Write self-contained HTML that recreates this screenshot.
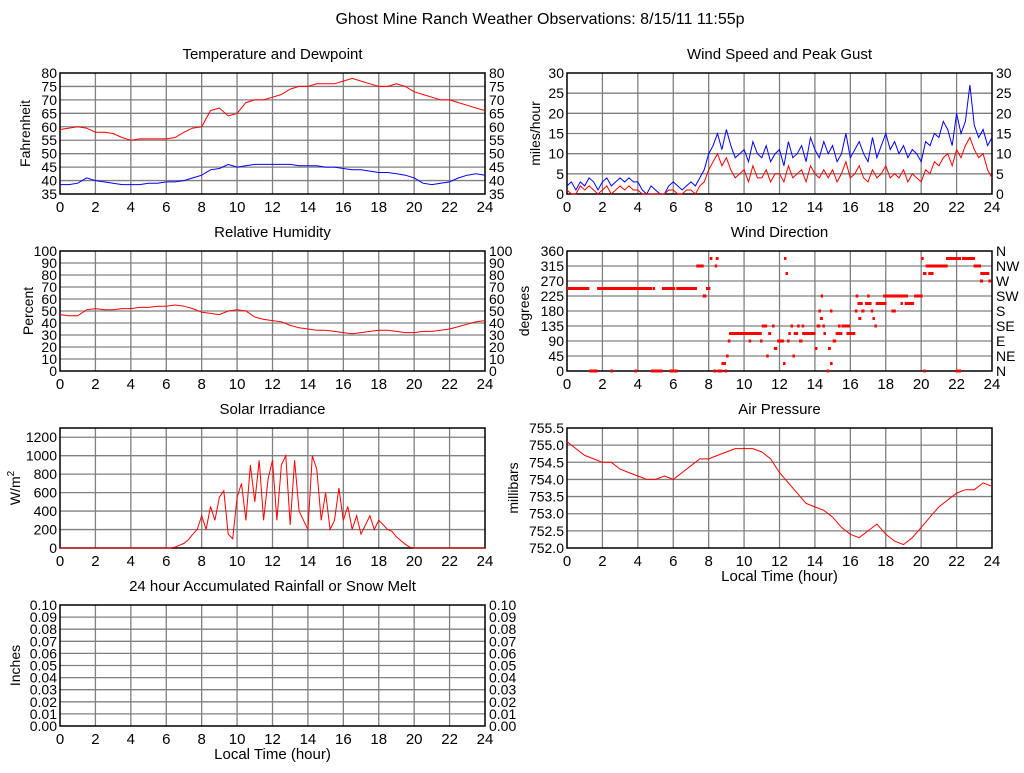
<!DOCTYPE html>
<html><head><meta charset="utf-8"><style>
body{margin:0;background:#fff;width:1024px;height:768px;overflow:hidden}
svg{font-family:"Liberation Sans",sans-serif}
</style></head><body>
<svg id="c" width="1024" height="768">
<text x="540" y="24" font-size="16" text-anchor="middle">Ghost Mine Ranch Weather Observations: 8/15/11 11:55p</text>
</svg>
<script>
// Half-hour samples 0..24
const tempF=[59,59.5,60,59.5,58,58,57.5,56,55,55.5,55.5,55.5,55.5,56,58,59.5,60,66,67,64,65,69,70,70,71,72,74,75,75,76,76,76,77,78,77,76,75,75,76,75,73,72,71,70,70,69,68,67,66];
const dewF=[38.5,38.5,39,41,40,39.5,39,38.5,38.5,38.5,39,39,39.5,39.5,40,41,42,44,44.5,46,45,45.5,46,46,46,46,46,45.5,45.5,45.5,45,45,44.5,44,44,43.5,43,43,42.5,42,41,39,38.5,39,39.5,41,42,42.5,42];
const rhPct=[47,46,46,51,52,51,51,52,52,53,53,54,54,55,54,52,49,48,47,50,51,50,45,43,42,41,38,36,35,34,34,33,32,31,32,33,34,34,33,32,32,33,33,34,35,37,39,41,42];
// quarter-hour wind samples
const gustMph=[2,3,1,3,2,4,3,1,3,4,2,3,4,3,4,3,3,1,0,2,1,0,0,2,3,2,1,2,3,2,4,6,10,12,15,11,16,12,9,10,11,8,13,10,9,12,8,10,11,7,13,9,10,12,8,14,11,9,13,10,12,8,10,15,9,11,13,10,8,14,9,12,15,11,13,10,12,9,11,10,8,13,12,15,14,18,16,12,20,15,18,27,17,14,16,12,14];
const speedMph=[1,0,0,2,1,2,1,0,1,2,0,1,2,1,2,1,1,0,0,0,0,0,0,1,1,0,0,1,1,0,2,3,6,8,10,7,9,6,4,5,6,3,7,4,4,6,3,5,5,3,7,4,5,6,3,7,5,4,6,4,6,3,5,8,4,5,7,4,3,6,4,5,7,4,5,4,6,3,5,4,3,6,5,8,7,9,10,7,11,9,12,14,11,9,10,6,4];
const pressMb=[755.1,754.9,754.7,754.6,754.5,754.5,754.3,754.2,754.1,754.0,754.0,754.1,754.0,754.2,754.4,754.6,754.6,754.7,754.8,754.9,754.9,754.9,754.8,754.6,754.2,753.9,753.6,753.3,753.2,753.1,752.9,752.6,752.4,752.3,752.5,752.7,752.4,752.2,752.1,752.3,752.6,752.9,753.2,753.4,753.6,753.7,753.7,753.9,753.8];
const solarHour=[0,6,6.25,6.5,6.75,7,7.25,7.5,7.75,8,8.25,8.5,8.75,9,9.25,9.5,9.75,10,10.25,10.5,10.75,11,11.25,11.5,11.75,12,12.25,12.5,12.75,13,13.25,13.5,13.75,14,14.25,14.5,14.75,15,15.25,15.5,15.75,16,16.25,16.5,16.75,17,17.25,17.5,17.75,18,18.25,18.5,18.75,19,19.25,19.5,19.75,20,24];
const solarW=[0,0,0,10,30,50,90,150,200,350,200,450,300,550,620,150,100,550,700,300,900,500,950,300,750,950,300,900,1000,250,950,400,300,200,1000,850,300,600,200,300,650,300,450,200,350,150,250,350,200,300,250,200,180,120,80,40,10,0,0];
const wdStart=[0,1.7,4.83,5.36,6.17,7.85,1.26,2.45,3.81,4.74,5.79,7.3,7.66,8.06,8.4,8.34,8.26,8.5,8.9,8.72,8.98,9.08,9.15,10.26,10.9,11.0,11.58,11.36,11.25,11.68,11.87,12.2,12.25,12.34,12.43,12.5,12.62,12.73,12.8,13.0,13.1,13.25,13.28,14.0,14.1,14.2,14.32,14.28,14.48,14.42,14.66,14.74,14.85,14.85,15.0,15.17,15.3,15.5,15.78,15.65,15.84,16.25,16.3,16.4,16.45,16.62,16.83,16.95,17.15,17.25,17.36,17.43,17.85,18.32,18.53,18.83,19.07,19.6,20.0,20.12,20.1,20.4,20.25,21.4,22.3,21.95,22.1,22.96,23.34,23.32,23.8];
const wdEnd=[1.26,4.8,4.94,6.11,7.34,8.1,1.72,2.57,3.94,5.4,6.25,7.72,7.87,8.21,8.56,8.45,8.43,8.77,9.0,8.98,9.13,9.23,11.0,10.34,10.98,11.3,11.7,11.53,11.38,11.87,12.25,12.26,12.38,12.43,12.55,12.62,12.77,12.87,13.05,13.13,13.3,13.35,14.04,14.13,14.3,14.3,14.45,14.45,14.6,14.52,14.8,14.9,15.0,14.97,15.2,15.55,15.45,15.7,16.28,15.9,15.95,16.4,16.45,16.7,16.62,16.8,17.2,17.05,17.28,17.35,17.5,18.04,18.62,18.57,19.26,18.93,19.6,20.08,20.13,20.22,20.3,20.7,21.5,22.25,23.04,22.08,22.25,23.38,23.85,23.5,23.95];
const wdDeg=[247.5,247.5,247.5,247.5,247.5,247.5,0,0,0,0,0,315,225,337.5,337.5,315,0,0,0,22.5,45,90,112.5,90,90,135,135,112.5,45,67.5,90,22.5,337.5,292.5,90,112.5,135,45,112.5,135,90,135,112.5,67.5,135,180,225,157.5,112.5,135,0,67.5,22.5,180,90,112.5,135,135,112.5,135,135,180,225,202.5,157.5,180,202.5,225,180,157.5,135,202.5,225,180,225,202.5,202.5,225,337.5,0,292.5,292.5,315,337.5,337.5,0,0,315,292.5,270,270];
const xTicks=[0,2,4,6,8,10,12,14,16,18,20,22,24];
const compassLabels=['N','NE','E','SE','S','SW','W','NW','N'];

const NS='http://www.w3.org/2000/svg';
const svg=document.getElementById('c');
const FS=14;
function el(tag,attrs,parent){const e=document.createElementNS(NS,tag);for(const k in attrs)e.setAttribute(k,attrs[k]);(parent||svg).appendChild(e);return e;}

function panel(o){
  const g=el('g',{});
  
  
  const W=o.x1-o.x0,H=o.y1-o.y0;
  const sx=h=>o.x0+h/24*W;
  const sy=v=>o.y1-(v-o.ymin)/(o.ymax-o.ymin)*H;
  const t=el('text',{x:(o.x0+o.x1)/2,y:o.y0-14,'font-size':15,'text-anchor':'middle'},g);t.textContent=o.title;
  
  
  for(const h of xTicks){
    if(h>0&&h<24)el('line',{x1:sx(h),x2:sx(h),y1:o.y0,y2:o.y1,stroke:'#808080','stroke-width':1.3},g);
    const l=el('text',{x:sx(h),y:o.y1+18,'font-size':FS+1,'text-anchor':'middle'},g);l.textContent=h;
    
    
  }
  o.yTicks.forEach((v,i)=>{
    const y=sy(v);
    if(v>o.ymin&&v<o.ymax)el('line',{x1:o.x0,x2:o.x1,y1:y,y2:y,stroke:'#808080','stroke-width':1.3},g);
    const l=el('text',{x:o.x0-3,y:y+5,'font-size':FS,'text-anchor':'end'},g);l.textContent=o.fmt?o.fmt(v):v;
    
    
    if(o.right){const r=el('text',{x:o.x1+4,y:y+5,'font-size':FS},g);r.textContent=o.right===true?(o.fmt?o.fmt(v):v):o.right[i];
      
      }
  });
  const yl=el('text',{transform:`translate(${o.ylx},${(o.y0+o.y1)/2}) rotate(-90)`,'font-size':FS,'text-anchor':'middle'},g);
  if(o.ylabelHTML){yl.innerHTML=o.ylabelHTML}else yl.textContent=o.ylabel;
  
  
  if(o.xlabel){const xl=el('text',{x:(o.x0+o.x1)/2,y:o.y1+33,'font-size':15,'text-anchor':'middle'},g);xl.textContent=o.xlabel;
    
    }
  el('rect',{x:o.x0,y:o.y0,width:W,height:H,fill:'none',stroke:'#000','stroke-width':1.5},g);
  return {g,sx,sy};
}
function line(p,hours,vals,color,name){
  const d=vals.map((v,i)=>(i?'L':'M')+p.sx(hours(i)).toFixed(1)+','+p.sy(v).toFixed(1)).join('');
  const e=el('path',{d,fill:'none',stroke:color,'stroke-width':1},p.g);
  
  
}
const half=i=>i*0.5;
const quarter=i=>i*0.25;
const rng=(a,b,s)=>{const r=[];for(let v=a;v<=b+1e-9;v+=s)r.push(+v.toFixed(2));return r;};

const L0=60,L1=485,R0=567,R1=992;
const p1=panel({name:'temperature-panel',title:'Temperature and Dewpoint',x0:L0,x1:L1,y0:73,y1:194,ymin:35,ymax:80,yTicks:rng(35,80,5),right:true,ylabel:'Fahrenheit',ylx:30});
line(p1,half,tempF,'#ff0000','temperature-line');
line(p1,half,dewF,'#0000ff','dewpoint-line');

const p2=panel({name:'wind-speed-panel',title:'Wind Speed and Peak Gust',x0:R0,x1:R1,y0:73,y1:194,ymin:0,ymax:30,yTicks:rng(0,30,5),right:true,ylabel:'miles/hour',ylx:540});
line(p2,quarter,gustMph,'#0000ff','peak-gust-line');
line(p2,quarter,speedMph,'#ff0000','wind-speed-line');

const p3=panel({name:'humidity-panel',title:'Relative Humidity',x0:L0,x1:L1,y0:251,y1:371,ymin:0,ymax:100,yTicks:rng(0,100,10),right:true,ylabel:'Percent',ylx:33});
line(p3,half,rhPct,'#ff0000','humidity-line');

const p4=panel({name:'wind-direction-panel',title:'Wind Direction',x0:R0,x1:R1,y0:251,y1:371,ymin:0,ymax:360,yTicks:rng(0,360,45),right:compassLabels,ylabel:'degrees',ylx:529});
wdDeg.forEach((d,i)=>{
  const x=p4.sx(wdStart[i]),x2=p4.sx(wdEnd[i]);
  const r=el('rect',{x:x,y:p4.sy(d)-1.5,width:Math.max(2.5,x2-x),height:3,fill:'#ff0000'},p4.g);
  
  
});

const p5=panel({name:'solar-panel',title:'Solar Irradiance',x0:L0,x1:L1,y0:428,y1:548,ymin:0,ymax:1300,yTicks:rng(0,1200,200),ylabelHTML:'W/m<tspan dy="-6" font-size="10">2</tspan>',ylx:20});
line(p5,i=>solarHour[i],solarW,'#ff0000','solar-line');

const p6=panel({name:'pressure-panel',title:'Air Pressure',x0:R0,x1:R1,y0:428,y1:548,ymin:752,ymax:755.5,yTicks:rng(752,755.5,0.5),fmt:v=>v.toFixed(1),ylabel:'millibars',ylx:518,xlabel:'Local Time (hour)'});
line(p6,half,pressMb,'#ff0000','pressure-line');

panel({name:'rainfall-panel',title:'24 hour Accumulated Rainfall or Snow Melt',x0:L0,x1:L1,y0:605,y1:726,ymin:0,ymax:0.1,yTicks:rng(0,0.1,0.01),fmt:v=>v.toFixed(2),right:true,ylabel:'Inches',ylx:20,xlabel:'Local Time (hour)'});
</script>
</body></html>
